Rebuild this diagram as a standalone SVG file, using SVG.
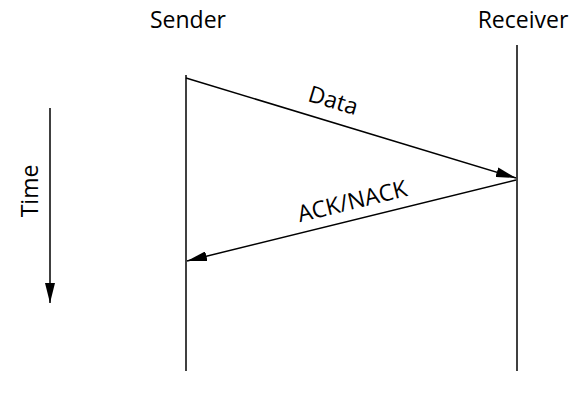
<svg xmlns="http://www.w3.org/2000/svg" width="577" height="401" viewBox="0 0 577 401">
<style>
.t{font-family:"Open Sans","Liberation Sans",sans-serif;font-size:23px;fill:#000}
.l{stroke:#000;stroke-width:1.5;fill:none}
</style>
<defs>
<marker id="ahl" viewBox="0 0 20 10" refX="20" refY="5" markerWidth="20" markerHeight="10" markerUnits="userSpaceOnUse" orient="auto"><path d="M0,0 L20,5 L0,10 z" fill="#000"/></marker>
</defs>
<rect width="577" height="401" fill="#fff"/>
<g id="sender">
<text class="t" x="188" y="28" text-anchor="middle">Sender</text>
<line class="l" x1="186" y1="75" x2="186" y2="371"/>
</g>
<g id="receiver">
<text class="t" x="523" y="28" text-anchor="middle">Receiver</text>
<line class="l" x1="517" y1="45" x2="517" y2="371"/>
</g>
<g id="time">
<text class="t" x="0" y="0" text-anchor="middle" transform="translate(38,191) rotate(-90)">Time</text>
<line class="l" x1="50" y1="108" x2="50" y2="303" marker-end="url(#ahl)"/>
</g>
<g id="connectors">
<line class="l" x1="186" y1="78" x2="516" y2="178" marker-end="url(#ahl)"/>
<line class="l" x1="516" y1="180" x2="187" y2="261" marker-end="url(#ahl)"/>
<text class="t" x="0" y="0" text-anchor="middle" transform="translate(331,108) rotate(16.9)">Data</text>
<text class="t" x="0" y="0" text-anchor="middle" transform="translate(354,209) rotate(-13.8)">ACK/NACK</text>
</g>
</svg>
